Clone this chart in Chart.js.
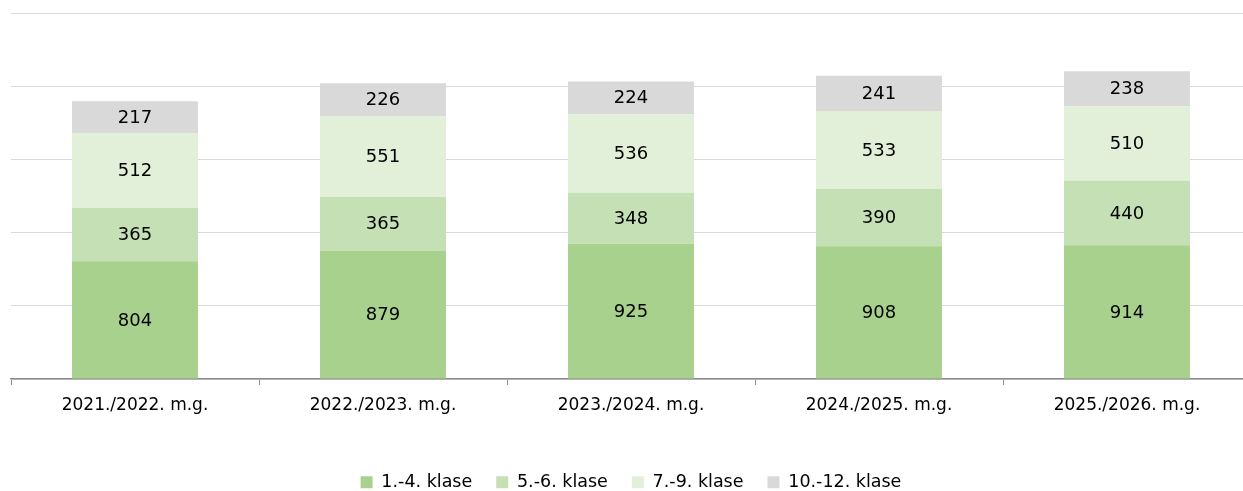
<!DOCTYPE html>
<html>
<head>
<meta charset="utf-8">
<script src="https://cdn.jsdelivr.net/npm/chart.js@4"></script>
<style>
  html, body { margin: 0; padding: 0; background: #fff; overflow: hidden; }
  #wrap { width: 1262px; height: 491px; }
</style>
</head>
<body>
<div id="wrap"><canvas id="chart"></canvas></div>
<script>
const years = ['2021./2022. m.g.', '2022./2023. m.g.', '2023./2024. m.g.', '2024./2025. m.g.', '2025./2026. m.g.'];
const grades1to4 = [804, 879, 925, 908, 914];
const grades5to6 = [365, 365, 348, 390, 440];
const grades7to9 = [512, 551, 536, 533, 510];
const grades10to12 = [217, 226, 224, 241, 238];
const seriesNames = ['1.-4. klase', '5.-6. klase', '7.-9. klase', '10.-12. klase'];
const seriesColors = ['#a9d18e', '#c5e0b4', '#e2efd9', '#d9d9d9'];

const fontFamily = "'DejaVu Sans', sans-serif";

// draw the value in the middle of every segment
const segmentLabels = {
    id: 'segmentLabels',
    afterDatasetsDraw(chart) {
        const ctx = chart.ctx;
        ctx.save();
        ctx.font = '18px ' + fontFamily;
        ctx.fillStyle = '#000';
        ctx.textAlign = 'center';
        ctx.textBaseline = 'middle';
        chart.data.datasets.forEach((ds, i) => {
            chart.getDatasetMeta(i).data.forEach((bar, j) => {
                const mid = (bar.y + bar.base) / 2;
                ctx.fillText(ds.data[j], bar.x, mid + 1);
            });
        });
        ctx.restore();
    }
};

const allSeries = [grades1to4, grades5to6, grades7to9, grades10to12];

new Chart(document.getElementById('chart').getContext('2d'), {
    type: 'bar',
    data: {
        labels: years,
        datasets: allSeries.map((d, i) => ({
            label: seriesNames[i],
            data: d,
            backgroundColor: seriesColors[i],
            borderWidth: 0,
            categoryPercentage: 1,
            barPercentage: 0.508
        }))
    },
    options: {
        responsive: true,
        maintainAspectRatio: false,
        animation: false,
        layout: { padding: { left: 11, right: 11, top: 13, bottom: -10 } },
        plugins: {
            tooltip: { enabled: false },
            legend: {
                position: 'bottom',
                labels: {
                    boxWidth: 12,
                    boxHeight: 12,
                    padding: 24,
                    color: '#000',
                    font: { size: 17.5, family: fontFamily }
                }
            }
        },
        scales: {
            x: {
                stacked: true,
                afterFit: scale => { scale.height += 24; },
                grid: {
                    drawOnChartArea: false,
                    offset: true,
                    tickLength: 6,
                    color: '#8c8c8c'
                },
                border: { color: '#8c8c8c', width: 1.5 },
                ticks: {
                    color: '#000',
                    padding: 10,
                    font: { size: 17, family: fontFamily }
                }
            },
            y: {
                stacked: true,
                min: 0,
                max: 2500,
                ticks: { display: false, stepSize: 500 },
                grid: { color: '#d9d9d9', drawTicks: false },
                border: { display: false }
            }
        }
    },
    plugins: [segmentLabels]
});
</script>
</body>
</html>
